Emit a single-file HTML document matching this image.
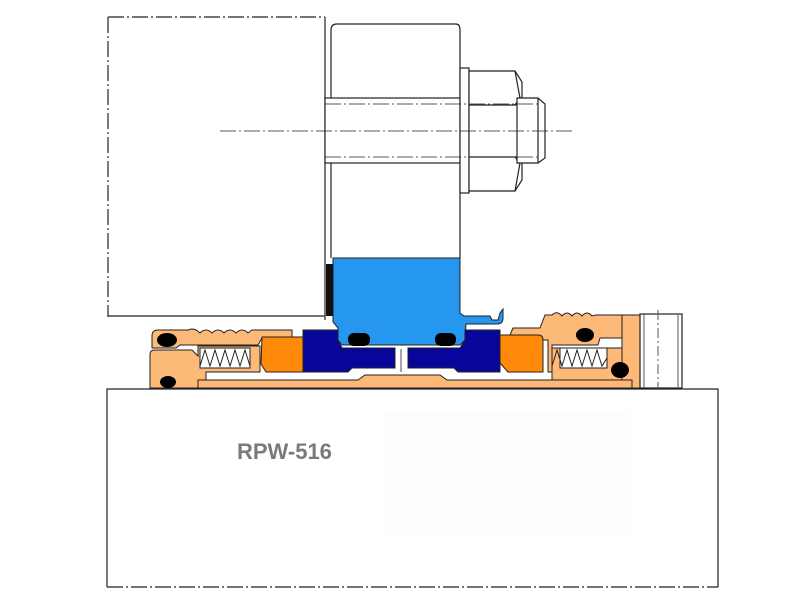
<!DOCTYPE html>
<html><head><style>html,body{margin:0;padding:0;background:#fff}svg{display:block}</style></head>
<body>
<svg width="800" height="600" viewBox="0 0 800 600" xmlns="http://www.w3.org/2000/svg">
<g fill="none" stroke="#222" stroke-width="1.2">
<path d="M108 17 H325 M108 17 V317" stroke-dasharray="16 3 2 3"/>
<path d="M108 316 H325"/>
<line x1="325" y1="17" x2="325" y2="320"/>
<path d="M107 587 V389 H718 V587"/>
<path d="M107 587 H718" stroke-dasharray="16 3 2 3"/>
<path d="M331 258 V30 Q331 24 337 24 H456 Q460 24 460 30 V258" fill="#fff"/>
<rect x="325" y="98" width="135" height="65" fill="#fff"/>
<rect x="460" y="68" width="9" height="125" fill="#fff"/>
<path d="M469 71 H515 L522 82 V180 L515 191 H469 Z" fill="#fff"/>
<line x1="469" y1="105" x2="520" y2="105"/><line x1="469" y1="157" x2="520" y2="157"/>
<path d="M515 71 L520 98 L515 105 M515 191 L520 163 L515 157"/>
<path d="M517 98 H538 L545 104 V158 L538 163 H517 Z" fill="#fff"/>
<line x1="538" y1="98" x2="538" y2="163"/>
<path d="M220 131 H575 M325 104 H540 M325 157 H540" stroke-dasharray="16 3 2 3" stroke-width="0.8"/>
</g>
<rect x="385" y="412" width="245" height="122" fill="#fdfdfb"/>
<!-- tan sleeve bottom -->
<path d="M150 388 V380 H358 L365 375 H440 L447 380 H636 V388 Z" fill="#fdb978" stroke="#222" stroke-width="1"/>
<!-- left tan parts -->
<g fill="#fdb978" stroke="#222" stroke-width="1">
<path d="M152 336 Q152 330 158 330 H188 Q194 327 200 333 Q206 327 212 333 Q218 327 224 333 Q230 327 236 333 Q242 327 248 333 L252 330 H292 V338 H262 L258 345 H180 L176 348 H152 Z"/>
<path d="M150 354 Q150 350 155 350 H192 L198 356 V346 H260 V372 H206 V380 H198 V388 H150 Z"/>
</g>
<rect x="200" y="348" width="50" height="20" fill="#fff" stroke="#222"/>
<polyline points="200,366 205,350 210,366 215,350 220,366 225,350 230,366 235,350 240,366 245,350 250,366" fill="none" stroke="#222"/>
<!-- right tan parts -->
<g fill="#fdb978" stroke="#222" stroke-width="1">
<path d="M510 335 L513 328 H540 L545 315 H552 Q557 310 562 316 Q567 310 572 316 Q577 310 582 316 Q587 310 592 316 L596 315 H622 V338 H600 L598 345 H552 V372 H548 V340 H540 V336 Z"/>
<path d="M552 348 H632 V380 H552 Z"/>
<path d="M622 315 H640 V388 H632 V380 H622 Z"/>
</g>
<rect x="560" y="348" width="47" height="20" fill="#fff" stroke="#222"/>
<polyline points="552,366 557,350 562,366 567,350 572,366 577,350 582,366 587,350 592,366 597,350 602,366 607,358" fill="none" stroke="#222"/>
<!-- orange -->
<g fill="#ff8a0a" stroke="#222" stroke-width="1">
<path d="M262 337 H303 V372 H266 L261 364 Z"/>
<path d="M500 335 H538 Q543 335 543 340 V372 H508 L500 363 Z"/>
</g>
<!-- blue -->
<path d="M333 258 H460 V313 L464 316 H490 L492 320 H498 L500 313 L503 309 V318 Q503 324 497 324 H466 L465 340 L460 345 H342 L338 340 V328 L333 322 Z" fill="#2597ef" stroke="#222" stroke-width="1"/>
<rect x="326" y="264" width="7" height="52" fill="#111"/>
<!-- navy -->
<g fill="#08069a" stroke="#222" stroke-width="1">
<path d="M303 330 H338 V340 L342 348 H395 V368 H352 L348 372 H303 Z"/>
<path d="M408 348 H460 L465 340 V330 H500 V372 H458 L454 368 H408 Z"/>
</g>
<path d="M401 349 V372" stroke="#888" stroke-width="1.5"/>
<!-- o-rings -->
<g fill="#000">
<ellipse cx="167" cy="340" rx="10" ry="7"/>
<ellipse cx="168" cy="382" rx="8" ry="6"/>
<rect x="348" y="333" width="22" height="13" rx="6"/>
<rect x="435" y="333" width="21" height="13" rx="6"/>
<ellipse cx="585" cy="335" rx="9" ry="7"/>
<ellipse cx="620" cy="370" rx="9" ry="8"/>
</g>
<!-- set screw -->
<rect x="640" y="314" width="42" height="74" fill="#fff" stroke="#222" stroke-width="1.2"/>
<line x1="644" y1="314" x2="644" y2="388" stroke="#555"/><line x1="678" y1="314" x2="678" y2="388" stroke="#555"/>
<line x1="658" y1="310" x2="658" y2="390" stroke="#555" stroke-dasharray="10 3 2 3"/>
<text x="237" y="459" font-family="Liberation Sans, sans-serif" font-weight="bold" font-size="22" fill="#7a7a7a">RPW-516</text>
</svg>
</body></html>
